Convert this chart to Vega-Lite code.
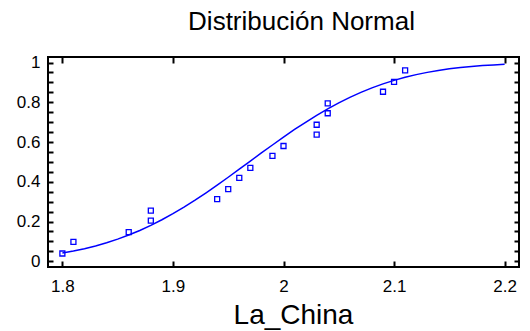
{
  "$schema": "https://vega.github.io/schema/vega-lite/v6.json",
  "width": 471,
  "height": 210,
  "autosize": {"type": "none"},
  "padding": {"left": 48, "top": 57, "right": 11, "bottom": 64},
  "background": "white",
  "config": {
    "view": {"stroke": "black", "strokeWidth": 2},
    "font": "Liberation Sans"
  },
  "title": {
    "text": "Distribución Normal",
    "font": "Liberation Sans",
    "fontSize": 26,
    "fontWeight": "normal",
    "color": "black",
    "anchor": "middle",
    "baseline": "alphabetic",
    "dx": 18,
    "offset": -2
  },
  "datasets": {
    "curve": [
      {"x": 1.80, "p": 0.0415}, {"x": 1.81, "p": 0.0515}, {"x": 1.82, "p": 0.0633},
      {"x": 1.83, "p": 0.0770}, {"x": 1.84, "p": 0.0929}, {"x": 1.85, "p": 0.1111},
      {"x": 1.86, "p": 0.1318}, {"x": 1.87, "p": 0.1550}, {"x": 1.88, "p": 0.1806},
      {"x": 1.89, "p": 0.2089}, {"x": 1.90, "p": 0.2396}, {"x": 1.91, "p": 0.2726},
      {"x": 1.92, "p": 0.3075}, {"x": 1.93, "p": 0.3446}, {"x": 1.94, "p": 0.3832},
      {"x": 1.95, "p": 0.4227}, {"x": 1.96, "p": 0.4633}, {"x": 1.97, "p": 0.5040},
      {"x": 1.98, "p": 0.5450}, {"x": 1.99, "p": 0.5851}, {"x": 2.00, "p": 0.6248},
      {"x": 2.01, "p": 0.6631}, {"x": 2.02, "p": 0.6995}, {"x": 2.03, "p": 0.7343},
      {"x": 2.04, "p": 0.7667}, {"x": 2.05, "p": 0.7970}, {"x": 2.06, "p": 0.8246},
      {"x": 2.07, "p": 0.8499}, {"x": 2.08, "p": 0.8725}, {"x": 2.09, "p": 0.8927},
      {"x": 2.10, "p": 0.9105}, {"x": 2.11, "p": 0.9259}, {"x": 2.12, "p": 0.9393},
      {"x": 2.13, "p": 0.9506}, {"x": 2.14, "p": 0.9603}, {"x": 2.15, "p": 0.9683},
      {"x": 2.16, "p": 0.9749}, {"x": 2.17, "p": 0.9804}, {"x": 2.18, "p": 0.9848},
      {"x": 2.19, "p": 0.9883}, {"x": 2.20, "p": 0.9911}
    ],
    "pts": [
      {"x": 1.80, "p": 0.039}, {"x": 1.81, "p": 0.097}, {"x": 1.86, "p": 0.147},
      {"x": 1.88, "p": 0.204}, {"x": 1.88, "p": 0.255}, {"x": 1.94, "p": 0.313},
      {"x": 1.95, "p": 0.363}, {"x": 1.96, "p": 0.420}, {"x": 1.97, "p": 0.470},
      {"x": 1.99, "p": 0.530}, {"x": 2.00, "p": 0.580}, {"x": 2.03, "p": 0.637},
      {"x": 2.03, "p": 0.687}, {"x": 2.04, "p": 0.745}, {"x": 2.04, "p": 0.795},
      {"x": 2.09, "p": 0.853}, {"x": 2.10, "p": 0.903}, {"x": 2.11, "p": 0.961}
    ]
  },
  "layer": [
    {
      "data": {"name": "curve"},
      "mark": {"type": "line", "color": "#0000ff", "strokeWidth": 1.5},
      "encoding": {
        "x": {
          "field": "x", "type": "quantitative",
          "scale": {"domain": [1.787, 2.213], "nice": false, "zero": false},
          "axis": {
            "orient": "bottom",
            "values": [1.8, 1.9, 2.0, 2.1, 2.2],
            "format": "~g",
            "domain": false, "grid": false,
            "tickSize": -6, "tickWidth": 2, "tickColor": "black",
            "labelFontSize": 17, "labelColor": "black", "labelPadding": 17,
            "labelFlush": false, "labelOverlap": false, "labelFont": "Liberation Sans",
            "title": "La_China", "titleFontSize": 28, "titleFontWeight": "normal",
            "titleColor": "black", "titleFont": "Liberation Sans",
            "titleX": 245, "titleY": 56.6, "titleBaseline": "alphabetic", "titleAlign": "center"
          }
        },
        "y": {
          "field": "p", "type": "quantitative",
          "scale": {"domain": [-0.029, 1.028], "nice": false, "zero": false},
          "axis": {
            "orient": "left",
            "values": [0, 0.05, 0.1, 0.15, 0.2, 0.25, 0.3, 0.35, 0.4, 0.45, 0.5, 0.55, 0.6, 0.65, 0.7, 0.75, 0.8, 0.85, 0.9, 0.95, 1],
            "labelExpr": "abs(datum.value*5-round(datum.value*5))<0.001 ? format(datum.value, '~g') : ''",
            "domain": false, "grid": false,
            "tickSize": -5, "tickWidth": 2, "tickColor": "black",
            "labelFontSize": 17, "labelColor": "black", "labelPadding": 13,
            "labelFlush": false, "labelOverlap": false, "labelFont": "Liberation Sans",
            "title": null
          }
        }
      }
    },
    {
      "data": {"name": "pts"},
      "mark": {"type": "point", "shape": "square", "filled": false, "color": "#0000ff", "size": 25, "strokeWidth": 1.3, "opacity": 1},
      "encoding": {
        "x": {
          "field": "x", "type": "quantitative",
          "axis": {
            "orient": "top",
            "values": [1.8, 1.9, 2.0, 2.1, 2.2],
            "labels": false, "domain": false, "grid": false,
            "tickSize": -6, "tickWidth": 2, "tickColor": "black",
            "title": null
          }
        },
        "y": {
          "field": "p", "type": "quantitative",
          "axis": {
            "orient": "right",
            "values": [0, 0.05, 0.1, 0.15, 0.2, 0.25, 0.3, 0.35, 0.4, 0.45, 0.5, 0.55, 0.6, 0.65, 0.7, 0.75, 0.8, 0.85, 0.9, 0.95, 1],
            "labels": false, "domain": false, "grid": false,
            "tickSize": -5, "tickWidth": 2, "tickColor": "black",
            "title": null
          }
        }
      }
    }
  ],
  "resolve": {"axis": {"x": "independent", "y": "independent"}}
}
